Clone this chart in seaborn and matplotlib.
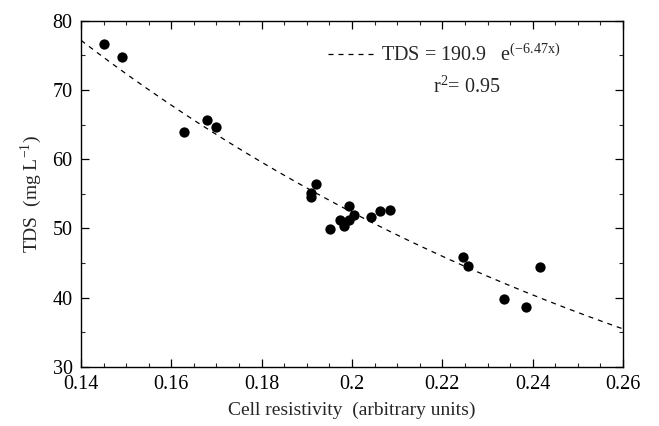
import numpy as np
import pandas as pd
import matplotlib
matplotlib.use("Agg")
import matplotlib.pyplot as plt
from matplotlib.ticker import MultipleLocator
import seaborn as sns

# Measured samples: cell resistivity vs total dissolved solids
resistivity = [0.1450, 0.1490, 0.1629, 0.1678, 0.1699,
               0.1920, 0.1909, 0.1910, 0.1994, 0.1952, 0.1973,
               0.1983, 0.1994, 0.2004, 0.2042, 0.2063, 0.2084,
               0.2246, 0.2257, 0.2336, 0.2386, 0.2416]
tds = [76.6, 74.8, 64.0, 65.7, 64.7,
       56.4, 55.1, 54.6, 53.3, 49.9, 51.2,
       50.3, 51.2, 51.9, 51.6, 52.5, 52.7,
       45.9, 44.6, 39.8, 38.6, 44.4]

# Exponential fit parameters
fit_a = 190.9
fit_b = -6.47
fit_r2 = 0.95

x_ticks = [0.14, 0.16, 0.18, 0.20, 0.22, 0.24, 0.26]
x_tick_labels = ["0.14", "0.16", "0.18", "0.2", "0.22", "0.24", "0.26"]
y_ticks = [30, 40, 50, 60, 70, 80]

sns.set_theme(style="ticks")
plt.rcParams["font.family"] = ["Liberation Serif", "DejaVu Serif"]
plt.rcParams["mathtext.fontset"] = "stix"

df = pd.DataFrame({"resistivity": resistivity, "tds": tds})
xf = np.linspace(0.14, 0.26, 200)
fit_df = pd.DataFrame({"x": xf, "y": fit_a * np.exp(fit_b * xf)})

fig = plt.figure(figsize=(6.59, 4.26), dpi=100)
ax = fig.add_axes([0.1229, 0.1385, 0.8225, 0.8129])

sns.lineplot(data=fit_df, x="x", y="y", ax=ax, color="black",
             lw=0.9, linestyle=(0, (4, 4)), zorder=2)
sns.scatterplot(data=df, x="resistivity", y="tds", ax=ax, color="black",
                s=55, edgecolor="black", linewidth=0, zorder=3)

ax.set_xlim(0.14, 0.26)
ax.set_ylim(30, 80)
ax.set_xticks(x_ticks)
ax.set_xticklabels(x_tick_labels)
ax.set_yticks(y_ticks)
ax.xaxis.set_minor_locator(MultipleLocator(0.005))
ax.yaxis.set_minor_locator(MultipleLocator(5))
ax.tick_params(which="major", direction="in", length=6, width=0.9,
               top=True, right=True, labelsize=14.5, pad=6, colors="black")
ax.tick_params(which="minor", direction="in", length=3, width=0.8,
               top=True, right=True)
for sp in ax.spines.values():
    sp.set_visible(True)
    sp.set_linewidth(1.0)
    sp.set_color("black")

ax.set_xlabel("Cell resistivity  (arbitrary units)", fontsize=14, labelpad=5)
ax.set_ylabel("TDS  (mg L$^{\\mathregular{-1}}$)", fontsize=14, labelpad=6)

fit_line = ax.lines[0]
ax.legend([fit_line],
          ["TDS = 190.9   $\\mathregular{e^{(-6.47x)}}$"],
          loc="center left", bbox_to_anchor=(0.456, 0.90), frameon=False,
          borderpad=0, borderaxespad=0,
          fontsize=14.5, handlelength=2.35, handletextpad=0.25)
ax.text(0.712, 0.809, "r$^{\\mathregular{2}}$= 0.95", transform=ax.transAxes,
        ha="center", va="center", fontsize=14.5)

fig.savefig("out.png", dpi=100)
